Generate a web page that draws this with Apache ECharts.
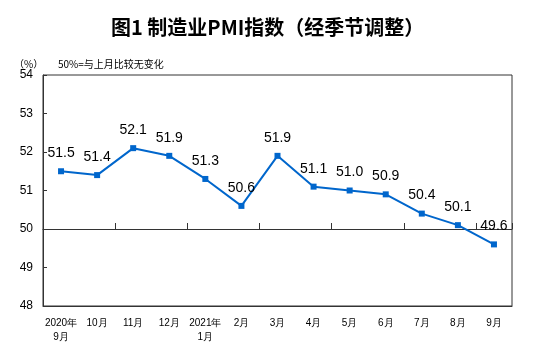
<!DOCTYPE html>
<html><head><meta charset="utf-8">
<script src="https://cdn.jsdelivr.net/npm/echarts@6/dist/echarts.min.js"></script>
<style>html,body{margin:0;padding:0;background:#fff}#c{width:554px;height:349px}</style>
</head><body><div id="c"></div>
<script>
const categories = ['2020年\n9月','10月','11月','12月','2021年\n1月','2月','3月','4月','5月','6月','7月','8月','9月'];
const pmiValues = [51.5, 51.4, 52.1, 51.9, 51.3, 50.6, 51.9, 51.1, 51.0, 50.9, 50.4, 50.1, 49.6];
const yTicks = [48, 49, 50, 51, 52, 53, 54];
const titleText = '图1 制造业PMI指数（经季节调整）';
const unitText = '（%）';
const noteText = '50%=与上月比较无变化';

const chart = echarts.init(document.getElementById('c'), null, {renderer: 'canvas'});
const axisColor = '#333';
chart.setOption({
  animation: false,
  backgroundColor: '#fff',
  title: [
    {text: titleText, left: 106, top: 12,
     textStyle: {fontFamily: 'Noto Sans CJK SC', fontSize: 20, fontWeight: 'bold', color: '#000'}},
    {text: unitText, left: 9, top: 54,
     textStyle: {fontFamily: 'Noto Sans CJK SC', fontSize: 10, fontWeight: 'normal', color: '#000'}},
    {text: noteText, left: 53, top: 54,
     textStyle: {fontFamily: 'Noto Sans CJK SC', fontSize: 10, fontWeight: 'normal', color: '#000'}}
  ],
  grid: [
    {left: 43, right: 42, top: 75, bottom: 43, show: true, borderColor: axisColor, borderWidth: 1, containLabel: false},
    {left: 43, right: 42, top: 75, bottom: 120, show: false, containLabel: false}
  ],
  xAxis: [
    {type: 'category', gridIndex: 0, data: categories, boundaryGap: true,
     axisLine: {lineStyle: {color: axisColor, width: 1}},
     axisTick: {show: false},
     axisLabel: {color: '#000', fontSize: 10, fontFamily: 'Liberation Sans', margin: 10, lineHeight: 14, interval: 0}},
    {type: 'category', gridIndex: 1, data: categories, boundaryGap: true,
     axisLine: {lineStyle: {color: axisColor, width: 1}},
     axisTick: {show: true, inside: true, length: 6, lineStyle: {color: axisColor}},
     axisLabel: {show: false}}
  ],
  yAxis: [
    {type: 'value', gridIndex: 0, min: yTicks[0], max: yTicks[yTicks.length-1], interval: 1,
     axisLine: {show: true, lineStyle: {color: axisColor, width: 1}},
     axisTick: {show: true, inside: true, length: 4, lineStyle: {color: axisColor}},
     splitLine: {show: false},
     axisLabel: {color: '#000', fontSize: 12, fontFamily: 'Liberation Sans', margin: 10}},
    {type: 'value', gridIndex: 1, show: false, min: 0, max: 1}
  ],
  series: [{
    type: 'line', xAxisIndex: 0, yAxisIndex: 0, data: pmiValues,
    symbol: 'rect', symbolSize: 6,
    lineStyle: {color: '#0066CC', width: 2},
    itemStyle: {color: '#0066CC'},
    label: {show: true, position: 'top', distance: 8, color: '#000', fontSize: 14, fontFamily: 'Liberation Sans',
      formatter: p => p.value.toFixed(1)}
  }]
});
</script></body></html>
